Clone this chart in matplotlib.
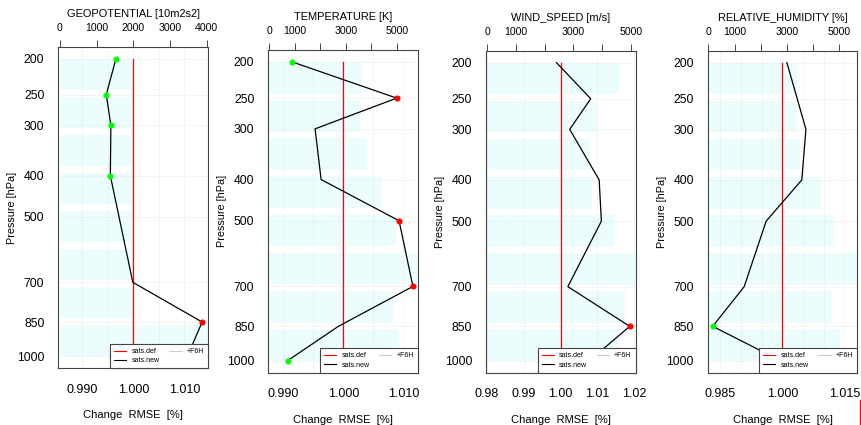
import matplotlib
matplotlib.use("Agg")
import matplotlib.pyplot as plt
from matplotlib.lines import Line2D
import numpy as np

plt.rcParams["font.family"] = ["Liberation Sans", "DejaVu Sans"]

LEVELS = [200, 250, 300, 400, 500, 700, 850, 1000]

# RMSE ratio new/def per level, significance flag and number of obs per layer
GEO_RATIO = [0.9966, 0.9947, 0.9956, 0.9955, 0.9972, 0.9999, 1.0135, 1.0106]
GEO_SIG = ["g", "g", "g", "g", "", "", "r", ""]
GEO_COUNTS = [1960, 1955, 1950, 1955, 1950, 1950, 1950, 4100]

TEMP_RATIO = [0.9915, 1.0089, 0.9953, 0.9963, 1.0093, 1.0116, 0.9992, 0.9907]
TEMP_SIG = ["g", "r", "", "", "r", "r", "", "g"]
TEMP_COUNTS = [3620, 3550, 3840, 4430, 4970, 5900, 4840, 5080]

WIND_RATIO = [0.9989, 1.0082, 1.0025, 1.0105, 1.0111, 1.0020, 1.0188, 1.0078]
WIND_SIG = ["", "", "", "", "", "", "r", ""]
WIND_COUNTS = [4590, 3810, 3580, 3660, 4450, 5300, 4800, 4600]

RH_RATIO = [1.0011, 1.0036, 1.0057, 1.0047, 0.9961, 0.9908, 0.9832, 0.9996]
RH_SIG = ["", "", "", "", "", "", "g", ""]
RH_COUNTS = [3370, 3380, 3500, 4300, 4800, 5800, 4730, 5030]

PANELS = [
    dict(title="GEOPOTENTIAL [10m2s2]", ratio=GEO_RATIO, sig=GEO_SIG, counts=GEO_COUNTS,
         box=(58.3, 368.3, 150.0, 321.6), xlim=(0.98529, 1.01471), ctop=(-46, 4045),
         xticks=[0.990, 1.000, 1.010], fmt="{:.3f}", grid=0.005,
         cticks=[0, 1000, 2000, 3000, 4000], clabels=["0", "1000", "2000", "3000", "4000"]),
    dict(title="TEMPERATURE [K]", ratio=TEMP_RATIO, sig=TEMP_SIG, counts=TEMP_COUNTS,
         box=(268.3, 372.7, 149.7, 322.7), xlim=(0.9875, 1.01245), ctop=(-47, 5830),
         xticks=[0.990, 1.000, 1.010], fmt="{:.3f}", grid=0.005,
         cticks=[0, 1000, 2000, 3000, 4000, 5000], clabels=["0", "1000", "", "3000", "", "5000"]),
    dict(title="WIND_SPEED [m/s]", ratio=WIND_RATIO, sig=WIND_SIG, counts=WIND_COUNTS,
         box=(486.0, 372.7, 149.7, 322.0), xlim=(0.97977, 1.02042), ctop=(-45, 5171),
         xticks=[0.98, 0.99, 1.00, 1.01, 1.02], fmt="{:.2f}", grid=0.01,
         cticks=[0, 1000, 2000, 3000, 4000, 5000], clabels=["0", "1000", "", "3000", "", "5000"]),
    dict(title="RELATIVE_HUMIDITY [%]", ratio=RH_RATIO, sig=RH_SIG, counts=RH_COUNTS,
         box=(707.7, 372.7, 149.6, 322.0), xlim=(0.98199, 1.01810), ctop=(-23, 5687),
         xticks=[0.985, 1.000, 1.015], fmt="{:.3f}", grid=0.005,
         cticks=[0, 1000, 2000, 3000, 4000, 5000], clabels=["0", "1000", "", "3000", "", "5000"]),
]

W, H = 861, 425
EXPO = 0.190263  # standard-atmosphere height ~ p**0.19
BAR_COLOR = "#EBFDFD"
FRAME = "#444444"
GRID = "#E2E2E2"
SIG_COLORS = {"g": "#00FF00", "r": "#FF0000"}


def p2h(p):
    return np.power(np.clip(np.asarray(p, dtype=float), 1e-6, None), EXPO)


def h2p(h):
    return np.power(np.clip(np.asarray(h, dtype=float), 1e-6, None), 1.0 / EXPO)


def bar_edges(n):
    h0, h1 = p2h(LEVELS[0]), p2h(LEVELS[-1])
    b = (h1 - h0) / (n + 0.2 * (n - 1))
    tops = h0 + np.arange(n) * 1.2 * b
    return h2p(tops), h2p(tops + b)


def draw_panel(fig, cfg):
    x0, y1, w, h = cfg["box"]
    ax = fig.add_axes([x0 / W, (H - y1) / H, w / W, h / H])
    top = ax.twiny()
    ax.set_zorder(top.get_zorder() + 1)
    ax.patch.set_visible(False)

    ax.set_yscale("function", functions=(p2h, h2p))
    h0, h1 = p2h(LEVELS[0]), p2h(LEVELS[-1])
    pad = 0.04 * (h1 - h0)
    ax.set_ylim(h2p(h1 + pad), h2p(h0 - pad))

    # observation counts as background bars on the top axis
    y_top, y_bot = bar_edges(len(cfg["counts"]))
    top.barh(y_top, cfg["counts"], height=y_bot - y_top, left=0, align="edge",
             color=BAR_COLOR, linewidth=0)
    top.set_xlim(*cfg["ctop"])
    top.set_xticks(cfg["cticks"])
    top.set_xticklabels(cfg["clabels"])
    top.tick_params(axis="x", direction="out", length=4.8, width=0.7, color=FRAME,
                    labelsize=7.6, pad=5.0)
    for s in top.spines.values():
        s.set_visible(False)

    ax.set_xlim(*cfg["xlim"])
    gx = np.arange(np.ceil(cfg["xlim"][0] / cfg["grid"]), cfg["xlim"][1] / cfg["grid"] + 1e-9) * cfg["grid"]
    for g in gx:
        ax.axvline(g, color=GRID, lw=0.5, ls=(0, (2, 2)), zorder=0.5)
    for p in LEVELS:
        ax.axhline(p, color=GRID, lw=0.5, ls=(0, (2, 2)), zorder=0.5)

    ax.plot(np.ones(len(LEVELS)), LEVELS, color="red", lw=0.9, zorder=2)
    ax.plot(cfg["ratio"], LEVELS, color="black", lw=0.9, zorder=3)
    for r, p, s in zip(cfg["ratio"], LEVELS, cfg["sig"]):
        if s:
            ax.plot(r, p, "o", color=SIG_COLORS[s], ms=4.4, mew=0, zorder=4)

    ax.set_xticks(cfg["xticks"])
    ax.set_xticklabels([cfg["fmt"].format(v) for v in cfg["xticks"]])
    ax.set_yticks(LEVELS)
    ax.set_yticklabels([str(p) for p in LEVELS])
    ax.yaxis.set_minor_locator(plt.NullLocator())
    ax.tick_params(axis="x", length=0, labelsize=9, pad=11)
    ax.tick_params(axis="y", length=0, labelsize=8.8, pad=10)
    for s in ax.spines.values():
        s.set_color(FRAME)
        s.set_linewidth(0.8)

    ax.annotate("Change  RMSE  [%]", xy=(0.5, 0), xycoords="axes fraction",
                xytext=(0, -47 * 0.72), textcoords="offset points",
                ha="center", va="center", fontsize=8)
    ax.annotate("Pressure [hPa]", xy=(0, 0.5), xycoords="axes fraction",
                xytext=(-46 * 0.72, 0), textcoords="offset points", rotation=90,
                ha="center", va="center", fontsize=7.8)
    ax.annotate(cfg["title"], xy=(0.5, 1), xycoords="axes fraction",
                xytext=(0, 33 * 0.72), textcoords="offset points",
                ha="center", va="center", fontsize=7.9)

    handles = [Line2D([], [], color="red", lw=0.8, label="sats.def"),
               Line2D([], [], color="black", lw=0.8, label="sats.new"),
               Line2D([], [], color="#CCCCCC", lw=0.8, label="+F6H")]
    leg = ax.legend(handles=handles, ncol=2, loc="lower right", fontsize=5,
                    frameon=True, fancybox=False, framealpha=1, edgecolor=FRAME,
                    borderaxespad=0, borderpad=0.6, handlelength=1.75, handletextpad=0.75,
                    columnspacing=1.4, labelspacing=0.3)
    leg.get_frame().set_linewidth(0.8)
    leg.set_zorder(10)
    return ax


fig = plt.figure(figsize=(W / 100, H / 100), dpi=100)
for cfg in PANELS:
    draw_panel(fig, cfg)

# edge of the next panel's reference line
fig.add_artist(Line2D([859.5 / W, 859.5 / W], [0, 25 / H], color="red", lw=0.9,
                      transform=fig.transFigure))

fig.savefig("out.png", dpi=100)
